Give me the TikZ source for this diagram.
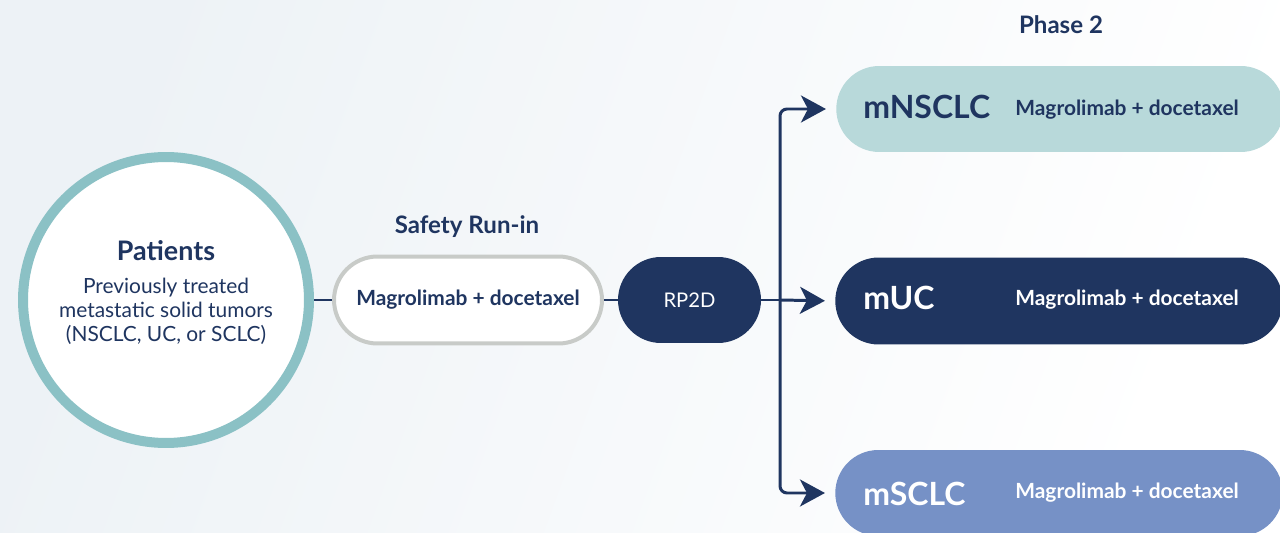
\documentclass[tikz,border=0pt]{standalone}
\usepackage{fontspec}
\setmainfont{Lato}
\usetikzlibrary{arrows.meta,shapes.misc}
\definecolor{navy}{HTML}{1F3560}
\definecolor{ringteal}{HTML}{8BC1C5}
\definecolor{paleteal}{HTML}{B8D9DA}
\definecolor{periwinkle}{HTML}{7691C6}
\definecolor{pillgray}{HTML}{C8CBC8}
\definecolor{bgtint}{HTML}{EDF2F6}
\begin{document}
\begin{tikzpicture} [x=0.02cm,y=-0.02cm,
	pill/.style={shape=rounded rectangle,minimum height=1.72cm,inner sep=0pt},
	armbox/.style={pill,minimum width=8.95cm},
	armname/.style={anchor=west,inner sep=0pt,font=\fontsize{18.2}{21}\selectfont\bfseries},
	armdrug/.style={anchor=west,inner sep=0pt,font=\fontsize{11.9}{14}\selectfont\bfseries},
	heading/.style={font=\fontsize{13.7}{16}\selectfont\bfseries,text=navy},
	link/.style={draw=navy,line width=1.7pt},
	branch/.style={link,-{Stealth[length=0.5cm,width=0.54cm,inset=0.14cm]},rounded corners=0.14cm,shorten >=0.2cm}]
	\useasboundingbox (0,0) rectangle (1280,533);
	\shade[left color=bgtint,right color=white,shading angle=70] (0,0) rectangle (1280,533);

	% patients
	\node (patients) at (166,300)[shape=circle,minimum size=5.72cm,draw=ringteal,line width=0.2cm,fill=white] {};
	\node (patientsTitle) at (166,251)[font=\fontsize{15.3}{18}\selectfont\bfseries,text=navy] {Patients};
	\node (patientsText) at (166,311)[align=center,text=navy,font=\fontsize{11.9}{13.6}\selectfont] {Previously treated\\metastatic solid tumors\\(NSCLC, UC, or SCLC)};

	% safety run-in
	\node (safety) at (468,300)[pill,minimum width=5.36cm,minimum height=1.74cm,draw=pillgray,line width=0.08cm,fill=white,text=navy,font=\fontsize{11.9}{14}\selectfont\bfseries] {Magrolimab + docetaxel};
	\node (safetyTitle) at (467,227)[heading] {Safety Run-in};
	\node (rp2d) at (689.5,300)[pill,minimum width=2.86cm,fill=navy,text=white,font=\fontsize{11.5}{14}\selectfont] {RP2D};

	% phase 2 arms
	\node (phaseTitle) at (1061,25)[heading] {Phase 2};
	\node (nsclc) at (1060,109)[armbox,fill=paleteal] {};
	\node (nsclcName) at (863,107)[armname,text=navy] {mNSCLC};
	\node (nsclcDrug) at (1015,110)[armdrug,text=navy] {Magrolimab + docetaxel};
	\node (uc) at (1059,301)[armbox,minimum height=1.74cm,fill=navy] {};
	\node (ucName) at (863,298)[armname,text=white] {mUC};
	\node (ucDrug) at (1015,300)[armdrug,text=white] {Magrolimab + docetaxel};
	\node (sclc) at (1059,493)[armbox,fill=periwinkle] {};
	\node (sclcName) at (863,494)[armname,text=white] {mSCLC};
	\node (sclcDrug) at (1015,493)[armdrug,text=white] {Magrolimab + docetaxel};

	% connectors
	\coordinate (split) at (780,300);
	\draw[link] (patients.east) -- (safety.west);
	\draw[link] (safety.east) -- (rp2d.west);
	\draw[link] (rp2d.east) -- (split);
	\draw[branch] (split) |- (nsclc.west);
	\draw[branch] (split) -- (uc.west);
	\draw[branch] (split) |- (sclc.west);
\end{tikzpicture}
\end{document}
